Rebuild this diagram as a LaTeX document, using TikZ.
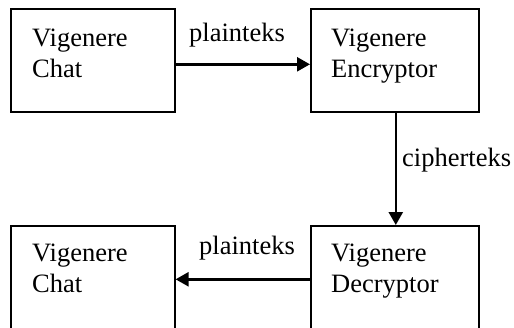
\documentclass[tikz,border=0pt]{standalone}
\usepackage{fontspec}
\setmainfont{Liberation Serif}
\usetikzlibrary{arrows.meta,calc}
\begin{document}
\begin{tikzpicture}[x=1pt,y=-1pt,
  box/.style={draw,line width=1.6pt,rectangle,anchor=north west,inner sep=0pt},
  lbl/.style={anchor=base west,inner sep=0pt,font=\fontsize{26.5}{31}\selectfont},
  flow/.style={line width=2.5pt,-{Triangle[length=13pt,width=14pt]}}]
\useasboundingbox (0,0) rectangle (514,327);
\clip (0,0) rectangle (514,327);
% boxes
\node[box,minimum width=164pt,minimum height=103pt] (chatA) at (10,8) {};
\node[box,minimum width=168pt,minimum height=103pt] (enc) at (310,8) {};
\node[box,minimum width=164pt,minimum height=120pt] (chatB) at (10,225) {};
\node[box,minimum width=168pt,minimum height=120pt] (dec) at (310,225) {};
% box texts
\node[lbl] (tA1) at ($(chatA.north west)+(22,38)$) {Vigenere};
\node[lbl] (tA2) at ($(chatA.north west)+(22,69)$) {Chat};
\node[lbl] (tE1) at ($(enc.north west)+(21,38)$) {Vigenere};
\node[lbl] (tE2) at ($(enc.north west)+(21,69)$) {Encryptor};
\node[lbl] (tB1) at ($(chatB.north west)+(22,36)$) {Vigenere};
\node[lbl] (tB2) at ($(chatB.north west)+(22,67)$) {Chat};
\node[lbl] (tD1) at ($(dec.north west)+(21,36)$) {Vigenere};
\node[lbl] (tD2) at ($(dec.north west)+(21,67)$) {Decryptor};
% connectors
\draw[flow] ([yshift=-4pt]chatA.east) -- ([yshift=-4pt]enc.west);
\draw[flow] ([xshift=1pt]enc.south) -- ([xshift=1pt]dec.north);
\draw[flow] ([yshift=6.5pt]dec.west) -- ([yshift=6.5pt]chatB.east);
% connector labels
\node[lbl] (l1) at (189,41) {plainteks};
\node[lbl] (l2) at (402,166) {cipherteks};
\node[lbl] (l3) at (199,254) {plainteks};
\end{tikzpicture}
\end{document}
